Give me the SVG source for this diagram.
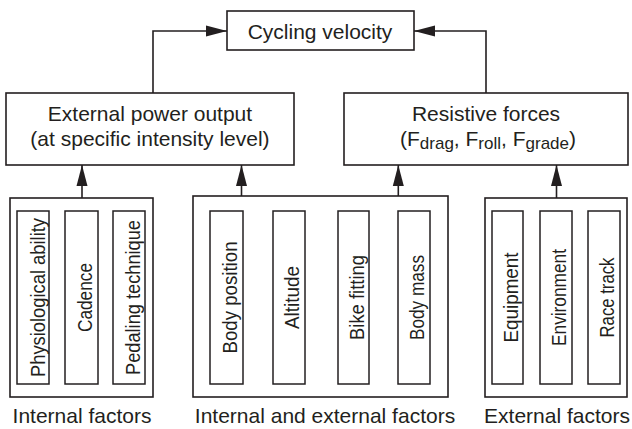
<svg xmlns="http://www.w3.org/2000/svg" width="632" height="429" viewBox="0 0 632 429">
<style>
.box{fill:#fff;stroke:#231f20;stroke-width:1.6}
.in{fill:none;stroke:#231f20;stroke-width:1.5}
.t{font-family:"Liberation Sans",Arial,sans-serif;font-size:21px;fill:#231f20;text-anchor:middle}
.v{font-family:"Liberation Sans",Arial,sans-serif;font-size:20px;fill:#231f20;text-anchor:middle}
.sub{font-size:17px}
.c{fill:none;stroke:#231f20;stroke-width:1.6}
</style>
<defs>
<marker id="ah" markerWidth="21" markerHeight="12" refX="21" refY="6" orient="auto" markerUnits="userSpaceOnUse">
<path d="M0,0.5 L21,6 L0,11.5 z" fill="#231f20"/>
</marker>
</defs>
<rect width="632" height="429" fill="#fff"/>
<g id="connectors">
<path class="c" d="M153,93 V31 H227" marker-end="url(#ah)"/>
<path class="c" d="M486,93 V31 H414" marker-end="url(#ah)"/>
<path class="c" d="M82,198 V165" marker-end="url(#ah)"/>
<path class="c" d="M241.5,196 V165" marker-end="url(#ah)"/>
<path class="c" d="M398.3,196 V165" marker-end="url(#ah)"/>
<path class="c" d="M556.5,198 V165" marker-end="url(#ah)"/>
</g>
<g id="cycling-velocity">
<rect class="box" x="227" y="11" width="187" height="39"/>
<text class="t" x="320" y="39">Cycling velocity</text>
</g>
<g id="external-power-output">
<rect class="box" x="6" y="93" width="288" height="72"/>
<text class="t" x="150" y="121">External power output</text>
<text class="t" x="150" y="146">(at specific intensity level)</text>
</g>
<g id="resistive-forces">
<rect class="box" x="344" y="93" width="284" height="72"/>
<text class="t" x="486" y="121">Resistive forces</text>
<text class="t" x="488" y="146">(F<tspan class="sub" dy="3">drag</tspan><tspan dy="-3">, F</tspan><tspan class="sub" dy="3">roll</tspan><tspan dy="-3">, F</tspan><tspan class="sub" dy="3">grade</tspan><tspan dy="-3">)</tspan></text>
</g>
<g id="internal-factors">
<rect class="box" x="10" y="198" width="143" height="199"/>
<rect class="in" x="17" y="211" width="32" height="173"/>
<rect class="in" x="65" y="211" width="33" height="173"/>
<rect class="in" x="113" y="211" width="32" height="173"/>
<text class="v" transform="translate(45,297.5) rotate(-90)" textLength="159" lengthAdjust="spacingAndGlyphs">Physiological ability</text>
<text class="v" transform="translate(91.5,297.5) rotate(-90)" textLength="69" lengthAdjust="spacingAndGlyphs">Cadence</text>
<text class="v" transform="translate(140,297.5) rotate(-90)" textLength="155" lengthAdjust="spacingAndGlyphs">Pedaling technique</text>
<text class="t" x="82" y="423">Internal factors</text>
</g>
<g id="internal-external-factors">
<rect class="box" x="193" y="196" width="255" height="201"/>
<rect class="in" x="210" y="211" width="33" height="173"/>
<rect class="in" x="273" y="211" width="32" height="173"/>
<rect class="in" x="338" y="211" width="31" height="173"/>
<rect class="in" x="398" y="211" width="32" height="173"/>
<text class="v" transform="translate(236.5,297.5) rotate(-90)" textLength="112" lengthAdjust="spacingAndGlyphs">Body position</text>
<text class="v" transform="translate(299,297.5) rotate(-90)" textLength="63" lengthAdjust="spacingAndGlyphs">Altitude</text>
<text class="v" transform="translate(363.5,297.5) rotate(-90)" textLength="85" lengthAdjust="spacingAndGlyphs">Bike fitting</text>
<text class="v" transform="translate(424,297.5) rotate(-90)" textLength="85" lengthAdjust="spacingAndGlyphs">Body mass</text>
<text class="t" x="325" y="423">Internal and external factors</text>
</g>
<g id="external-factors">
<rect class="box" x="485" y="198" width="142" height="199"/>
<rect class="in" x="492" y="211" width="31" height="173"/>
<rect class="in" x="540" y="211" width="32" height="173"/>
<rect class="in" x="588" y="211" width="32" height="173"/>
<text class="v" transform="translate(517.5,297.5) rotate(-90)" textLength="90" lengthAdjust="spacingAndGlyphs">Equipment</text>
<text class="v" transform="translate(566,297.5) rotate(-90)" textLength="97" lengthAdjust="spacingAndGlyphs">Environment</text>
<text class="v" transform="translate(614,297.5) rotate(-90)" textLength="80" lengthAdjust="spacingAndGlyphs">Race track</text>
<text class="t" x="557" y="423">External factors</text>
</g>
</svg>
